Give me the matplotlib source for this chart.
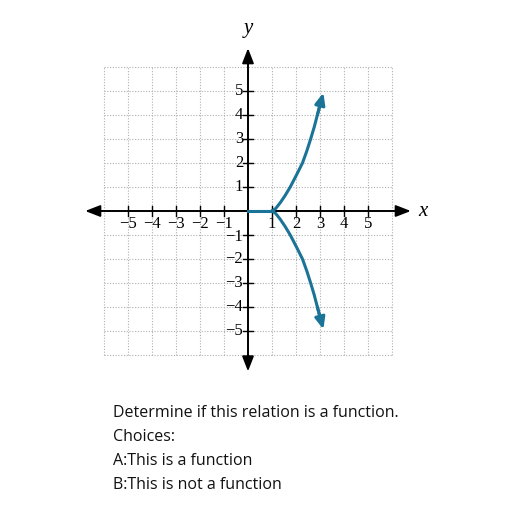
import numpy as np
import matplotlib
matplotlib.use("Agg")
import matplotlib.pyplot as plt

# Data
flat_x = [0.0, 1.0]
flat_y = [0.0, 0.0]
branch_y = [0.0, 0.1, 0.34, 0.65, 1.0, 1.5, 2.0, 2.5, 3.0, 3.5, 4.0, 4.5, 4.93]
branch_x = [1.0, 1.15, 1.34, 1.55, 1.76, 2.02, 2.27, 2.45, 2.61, 2.76, 2.89, 3.02, 3.14]
x_ticks = [-5, -4, -3, -2, -1, 1, 2, 3, 4, 5]
y_ticks = [-5, -4, -3, -2, -1, 1, 2, 3, 4, 5]
question = ["Determine if this relation is a function.", "Choices:",
            "A:This is a function", "B:This is not a function"]

W = 512
ox, oy, u = 248, 211, 24.0
fig = plt.figure(figsize=(5.12, 5.12), dpi=100)
ax = fig.add_axes([0, 0, 1, 1])
ax.set_xlim(-ox / u, (W - ox) / u)
ax.set_ylim(-(W - oy) / u, oy / u)
ax.axis("off")

gc = "#b0b0b0"
for g in range(-6, 7):
    ax.plot([g, g], [-6, 6], color=gc, lw=0.8, ls=(0, (1, 1.5)), zorder=1)
    ax.plot([-6, 6], [g, g], color=gc, lw=0.8, ls=(0, (1, 1.5)), zorder=1)

# axes with arrows
ax.annotate("", xy=(6.9, 0), xytext=(-6.9, 0),
            arrowprops=dict(arrowstyle="<|-|>,head_length=0.9,head_width=0.35", color="black", lw=1.4), zorder=3)
ax.annotate("", xy=(0, 6.9), xytext=(0, -6.8),
            arrowprops=dict(arrowstyle="<|-|>,head_length=0.9,head_width=0.35", color="black", lw=1.4), zorder=3)

serif = "Liberation Serif"
for t in x_ticks:
    ax.plot([t, t], [-0.22, 0.22], color="black", lw=1.0, zorder=3)
    ax.text(t, -0.2, "\u2212%d" % -t if t < 0 else str(t), ha="center", va="top",
            fontsize=12, family=serif, zorder=4)
for t in y_ticks:
    ax.plot([-0.22, 0.22], [t, t], color="black", lw=1.0, zorder=3)
    ax.text(-0.2, t - (0.08 if t == -1 else 0), "\u2212%d" % -t if t < 0 else str(t),
            ha="right", va="center", fontsize=12, family=serif, zorder=4)
ax.text(7.1, 0, "x", ha="left", va="center", fontsize=15, family=serif, style="italic")
ax.text(0, 7.2, "y", ha="center", va="bottom", fontsize=15, family=serif, style="italic")

col = "#1b7497"
ax.plot(flat_x, flat_y, color=col, lw=2.2, zorder=5)
bx = np.array(branch_x)
by = np.array(branch_y)
ax.plot(bx[:-1], by[:-1], color=col, lw=2.2, zorder=5, solid_joinstyle="round")
ax.plot(bx[:-1], -by[:-1], color=col, lw=2.2, zorder=5, solid_joinstyle="round")
for s in (1, -1):
    ax.annotate("", xy=(bx[-1], s * by[-1]), xytext=(bx[-3], s * by[-3]),
                arrowprops=dict(arrowstyle="-|>,head_length=0.7,head_width=0.3", color=col, lw=2.2,
                                shrinkA=0, shrinkB=0), zorder=6)

for i, line in enumerate(question):
    fig.text(113 / W, 1 - (413 + 24 * i) / W, line, ha="left", va="center",
             fontsize=11.5, family="Open Sans", color="#111111")

fig.savefig("out.png", dpi=100)
